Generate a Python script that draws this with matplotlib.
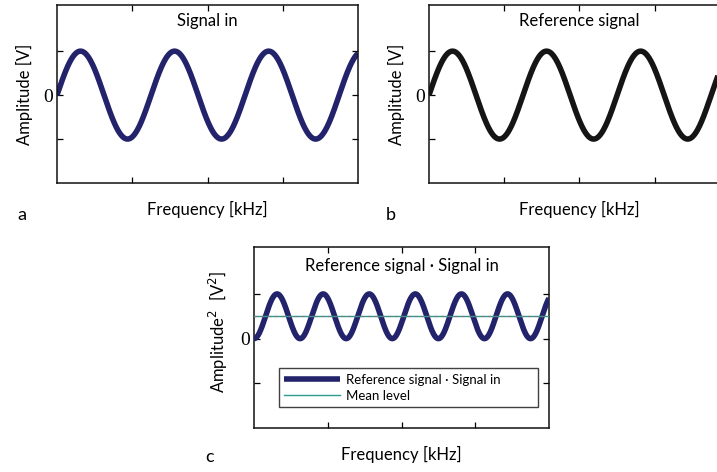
import numpy as np
import matplotlib
matplotlib.use("Agg")
import matplotlib.pyplot as plt

# ---- data ----
signal_amplitude = 1.0        # peak of "Signal in" and "Reference signal" [V]
signal_cycles = 3.2           # cycles across the frequency axis in panels a and b
signal_phase = 0.0            # both curves start at 0 going up
mean_level = 0.5              # mean of the product in panel c
x_ticks = [0.25, 0.5, 0.75]
y_ticks = [-1, 0, 1]
y_tick_labels = ["", "0", ""]
panel_titles = ["Signal in", "Reference signal", "Reference signal \u00b7 Signal in"]
panel_letters = ["a", "b", "c"]
legend_labels = ["Reference signal \u00b7 Signal in", "Mean level"]

x = np.linspace(0, 1, 800)
signal_in = signal_amplitude * np.sin(2 * np.pi * signal_cycles * x + signal_phase)
reference = signal_amplitude * np.sin(2 * np.pi * signal_cycles * x + signal_phase)
product = signal_in * reference
mean_line = np.full_like(x, mean_level)

plt.rcParams["font.family"] = ["Lato", "DejaVu Sans"]
FS = 12
NAVY = "#22236b"
BLACK = "#151515"

fig = plt.figure(figsize=(7.17, 4.72), dpi=100)
fig.patch.set_facecolor("white")


def style(ax, ylabel, ylabelpad=7):
    ax.set_xlim(0, 1)
    ax.set_ylim(-2, 2.05)
    ax.set_xticks(x_ticks)
    ax.set_xticklabels([])
    ax.set_yticks(y_ticks)
    ax.set_yticklabels(y_tick_labels, family="Liberation Serif", fontsize=14)
    ax.tick_params(direction="in", length=4.5, width=0.9, top=True, right=True, pad=3)
    for s in ax.spines.values():
        s.set_linewidth(1.1)
        s.set_color("#111111")
    ax.set_xlabel("Frequency [kHz]", fontsize=FS, labelpad=10)
    ax.set_ylabel(ylabel, fontsize=FS, labelpad=ylabelpad)


ax_a = fig.add_axes([57 / 717, 1 - 183 / 472, 301 / 717, 178 / 472])
ax_a.plot(x, signal_in, color=NAVY, lw=4, solid_capstyle="butt")
style(ax_a, "Amplitude [V]")
ax_a.text(0.5, 0.91, panel_titles[0], transform=ax_a.transAxes, ha="center", va="center", fontsize=FS)

ax_b = fig.add_axes([429 / 717, 1 - 183 / 472, 301 / 717, 178 / 472])
ax_b.plot(x, reference, color=BLACK, lw=4, solid_capstyle="butt")
style(ax_b, "Amplitude [V]")
ax_b.text(0.5, 0.91, panel_titles[1], transform=ax_b.transAxes, ha="center", va="center", fontsize=FS)

ax_c = fig.add_axes([254 / 717, 1 - 428 / 472, 295 / 717, 181 / 472])
ax_c.plot(x, product, color="#b03040", lw=1.0, zorder=2)
l1, = ax_c.plot(x, product, color=NAVY, lw=4, solid_capstyle="butt", zorder=3,
                label=legend_labels[0])
l2, = ax_c.plot(x, mean_line, color="#2a9d8f", lw=1.0, zorder=4, label=legend_labels[1])
ax_c.plot(x, mean_line, color="#777777", lw=0.8, ls=(0, (3, 3)), zorder=5)
style(ax_c, "Amplitude$^2$  [V$^2$]", ylabelpad=5)
ax_c.yaxis.set_label_coords(-0.08, 0.53)
ax_c.text(0.5, 0.895, panel_titles[2], transform=ax_c.transAxes, ha="center", va="center", fontsize=FS)
leg = ax_c.legend(handles=[l1, l2], loc="lower left",
                  bbox_to_anchor=(0.085, 0.116, 0.878, 0.227), mode="expand",
                  fontsize=9.5, frameon=True, fancybox=False, edgecolor="#111111",
                  handlelength=4.2, handletextpad=0.45, borderpad=0.4, labelspacing=0.3,
                  borderaxespad=0)
leg.get_frame().set_linewidth(1.0)

fig.text(17 / 717, 1 - 215 / 472, panel_letters[0], fontsize=13, ha="left", va="center")
fig.text(386 / 717, 1 - 215 / 472, panel_letters[1], fontsize=13, ha="left", va="center")
fig.text(205 / 717, 1 - 457 / 472, panel_letters[2], fontsize=13, ha="left", va="center")

fig.savefig("out.png", dpi=100, facecolor="white")
